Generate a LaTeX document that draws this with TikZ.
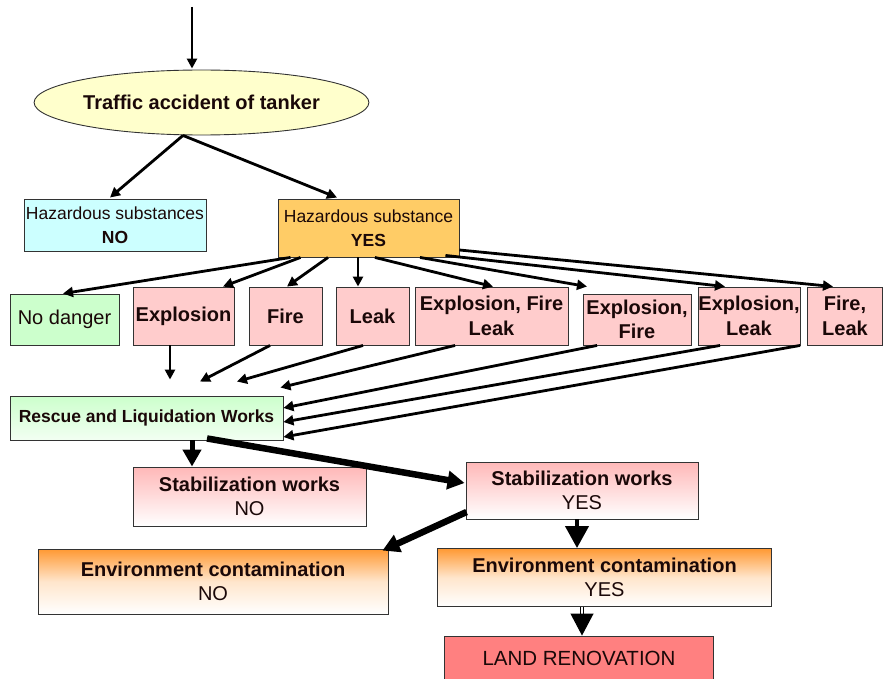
\documentclass[tikz,border=0pt]{standalone}
\usepackage{fontspec}
\setmainfont{Liberation Sans}
\usetikzlibrary{arrows.meta,shapes.geometric,calc}
\definecolor{ellfill}{HTML}{FFFFCC}
\definecolor{cyanfill}{HTML}{CCFFFF}
\definecolor{yesfill}{HTML}{FFCC66}
\definecolor{greenfill}{HTML}{CCFFCC}
\definecolor{pinkfill}{HTML}{FFCCCC}
\definecolor{stabtop}{HTML}{FFB8B8}
\definecolor{envtop}{HTML}{FF9933}
\definecolor{landfill}{HTML}{FF8080}
\definecolor{txt}{HTML}{1A0808}
\definecolor{edge}{HTML}{333333}
\begin{document}
\begin{tikzpicture}[x=1pt,y=-1pt,
  box/.style={draw=edge, line width=0.9pt, rectangle, inner sep=0pt, align=center, text=txt},
  bx/.style 2 args={box, minimum width=#1, minimum height=#2},
  big/.style={font=\fontsize{20}{24}\selectfont},
  bigb/.style={font=\fontsize{20}{24.5}\selectfont\bfseries},
  mid/.style={font=\fontsize{17.5}{24}\selectfont},
  midb/.style={font=\fontsize{17.5}{24}\selectfont\bfseries},
  conn/.style={-{Triangle[length=10pt,width=10pt]}, line width=2.8pt},
  heavy/.style={-{Triangle[length=17pt,width=18pt]}, line width=6.5pt},
  heavyb/.style={-{Triangle[length=22pt,width=23pt]}, line width=4pt}
]
\useasboundingbox (0,0) rectangle (883,679);

% top
\node[ellipse, draw=edge, line width=0.9pt, fill=ellfill, minimum width=311pt, minimum height=65pt, inner sep=0pt, text=txt, bigb] (acc) at (201.5,102.5) {Traffic accident of tanker};
\coordinate (start) at (192,7);

\node[bx={182pt}{52pt}, fill=cyanfill, mid] (hn) at (115,225) {Hazardous substances\\\textbf{NO}};
\node[bx={181pt}{58pt}, fill=yesfill, mid] (hy) at (368.5,228) {Hazardous substance\\\textbf{YES}};

% row
\node[bx={109pt}{51pt}, fill=greenfill, big] (nd) at (64.5,319.5) {No danger};
\node[bx={101pt}{58pt}, fill=pinkfill, bigb] (ex) at (183.5,316) {Explosion};
\node[bx={73pt}{58pt}, fill=pinkfill, bigb] (fi) at (285.5,316) {Fire};
\node[bx={73pt}{58pt}, fill=pinkfill, bigb] (lk) at (372.5,316) {Leak};
\node[bx={153pt}{58pt}, fill=pinkfill, bigb] (efl) at (491.5,316) {Explosion, Fire\\Leak};
\node[bx={108pt}{51pt}, fill=pinkfill, bigb] (ef) at (637,319.5) {Explosion,\\Fire};
\node[bx={102pt}{58pt}, fill=pinkfill, bigb] (el) at (749,316) {Explosion,\\Leak};
\node[bx={75pt}{58pt}, fill=pinkfill, bigb] (fl) at (845,316) {Fire,\\Leak};

\node[bx={273pt}{44pt}, top color=greenfill, bottom color=greenfill!25, midb] (rs) at (146.5,418) {Rescue and Liquidation Works};

\node[bx={233pt}{59pt}, top color=stabtop, bottom color=white, big] (sn) at (249.5,496.5) {\textbf{Stabilization works}\\NO};
\node[bx={232pt}{57pt}, top color=stabtop, bottom color=white, big] (sy) at (582,490.5) {\textbf{Stabilization works}\\YES};
\node[bx={350pt}{65pt}, top color=envtop, bottom color=white, middle color=envtop!25, big] (en) at (213,581.5) {\textbf{Environment contamination}\\NO};
\node[bx={334pt}{58pt}, top color=envtop, bottom color=white, middle color=envtop!25, big] (ey) at (604.5,577.5) {\textbf{Environment contamination}\\YES};
\node[bx={269pt}{44pt}, fill=landfill, font=\fontsize{20.5}{24}\selectfont] (ld) at (579,658) {LAND RENOVATION};

% connectors
\draw[conn] (start) -- ($(acc.north)+(-9.5,-1)$);
\draw[conn] ($(acc.south)+(-18.5,0)$) -- ($(hn.north)+(-5,-1)$);
\draw[conn] ($(acc.south)+(-18.5,0)$) -- ($(hy.north)+(-31.5,-1)$);

\draw[conn] ($(hy.south)+(-78,0)$) -- ($(nd.north)+(-1.5,0)$);
\draw[conn] ($(hy.south)+(-68,0)$) -- ($(ex.north)+(39.5,0)$);
\draw[conn] ($(hy.south)+(-40.5,0)$) -- ($(fi.north)+(1.5,0)$);
\draw[conn] ($(hy.south)+(-10.5,0)$) -- ($(lk.north)+(-14.5,0)$);
\draw[conn] ($(hy.south)+(6.5,0)$) -- ($(efl.north)+(1.5,0)$);
\draw[conn] ($(hy.south)+(51.5,0)$) -- ($(ef.north)+(-50,-7)$);
\draw[conn] ($(hy.south east)+(-14,-2)$) -- ($(el.north)+(-24,0)$);
\draw[conn] ($(hy.east)+(0,22)$) -- ($(fl.north)+(-12,0)$);

\draw[conn] ($(ex.south)+(-13.5,0)$) -- ($(rs.north)+(23.5,-16)$);
\draw[conn] ($(fi.south)+(-15.5,0)$) -- ($(rs.north)+(53.5,-14)$);
\draw[conn] ($(lk.south)+(-9.5,0)$) -- ($(rs.north)+(90.5,-14)$);
\draw[conn] ($(efl.south)+(-36.5,0)$) -- ($(rs.north east)+(-3,-8)$);
\draw[conn] ($(ef.south)+(-40,0)$) -- ($(rs.east)+(0,-10)$);
\draw[conn] ($(el.south)+(-29,0)$) -- ($(rs.east)+(0,4)$);
\draw[conn] ($(fl.south west)+(-7,0)$) -- ($(rs.east)+(0,19)$);

\draw[heavy, line width=5pt] ($(rs.south)+(45.5,0)$) -- ($(sn.north)+(-57.5,0)$);
\draw[heavy] ($(rs.south)+(60.5,-2)$) -- ($(sy.west)+(-1,-7.5)$);
\draw[heavy] ($(sy.west)+(1,21.5)$) -- ($(en.north east)+(-6,2)$);
\draw[heavyb] ($(sy.south)+(-5,0)$) -- ($(ey.north)+(-27.5,0)$);
\draw[heavyb, double, double distance=2pt, line width=1pt] ($(ey.south)+(-22.5,0)$) -- ($(ld.north)+(3,0)$);
\end{tikzpicture}
\end{document}
